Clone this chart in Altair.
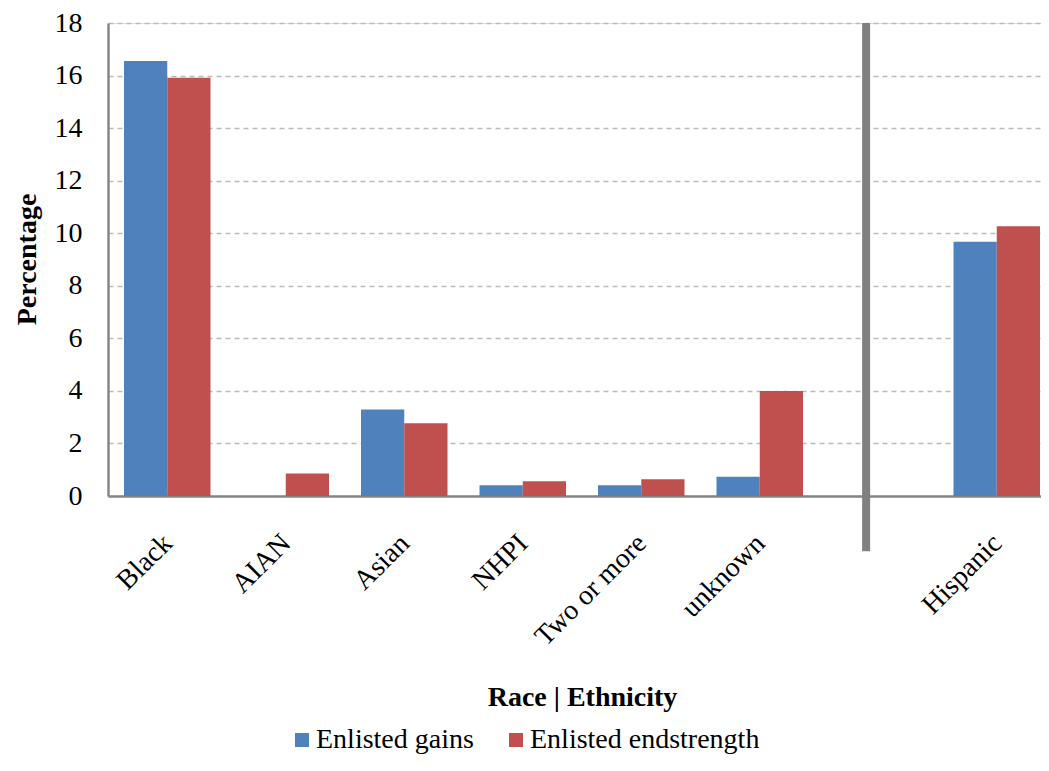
import altair as alt
import pandas as pd

categories = ["Black", "AIAN", "Asian", "NHPI", "Two or more", "unknown", " ", "Hispanic"]
gains = [16.55, 0.0, 3.29, 0.41, 0.41, 0.73, None, 9.68]
endstrength = [15.92, 0.86, 2.77, 0.56, 0.64, 4.0, None, 10.27]
series = ["Enlisted gains", "Enlisted endstrength"]
colors = ["#4F81BD", "#C0504D"]
y_ticks = [0, 2, 4, 6, 8, 10, 12, 14, 16, 18]

rows = []
for c, g, e in zip(categories, gains, endstrength):
    if g is not None:
        rows.append({"cat": c, "series": series[0], "value": g})
    if e is not None:
        rows.append({"cat": c, "series": series[1], "value": e})
df = pd.DataFrame(rows)

sep_df = pd.DataFrame([{"cat": " ", "top": 18, "bottom": -2.1}])

FONT = "Liberation Serif"

xscale = alt.Scale(domain=categories, range=[0, 948], paddingInner=0.27, paddingOuter=0.135)
yscale = alt.Scale(domain=[0, 18], nice=False)

bars = alt.Chart(df).mark_bar().encode(
    x=alt.X("cat:N", scale=xscale, sort=categories,
            axis=alt.Axis(title="Race | Ethnicity", labelAngle=315, labelFontSize=28,
                          labelFont=FONT, labelColor="#000000", ticks=False,
                          labelPadding=33, labelOffset=-9,
                          domainColor="#868686", domainWidth=2.5,
                          titleFont=FONT, titleFontSize=28, titleFontWeight="bold",
                          titleColor="#000000", titleX=474, titleY=201,
                          titleBaseline="middle", titleAlign="center")),
    xOffset=alt.XOffset("series:N", sort=series, scale=alt.Scale(domain=series)),
    y=alt.Y("value:Q", scale=yscale,
            axis=alt.Axis(title="Percentage", values=y_ticks, labelFontSize=28,
                          labelFont=FONT, labelColor="#000000", ticks=False,
                          labelPadding=26, domainColor="#868686", domainWidth=2.5,
                          grid=True, gridColor="#BBBBBB", gridDash=[5, 4], gridWidth=1.5,
                          titleFont=FONT, titleFontSize=28, titleFontWeight="bold",
                          titleColor="#000000", titleX=-81, titleY=236,
                          titleAngle=270, titleBaseline="middle", titleAlign="center")),
    color=alt.Color("series:N", sort=series,
                    scale=alt.Scale(domain=series, range=colors),
                    legend=alt.Legend(title=None, orient="none", legendX=180, legendY=703,
                                      direction="horizontal", symbolType="square",
                                      symbolSize=196, symbolStrokeWidth=0, padding=0,
                                      labelFont=FONT, labelFontSize=28, labelColor="#000000",
                                      labelOffset=0, columnPadding=28, labelLimit=400)),
)

sep = alt.Chart(sep_df).mark_rule(color="#808080", strokeWidth=8).encode(
    x=alt.X("cat:N", scale=xscale, bandPosition=0.36),
    y=alt.Y("top:Q", scale=yscale),
    y2="bottom:Q",
)

chart = alt.layer(bars, sep).properties(
    width=933, height=473,
    autosize=alt.AutoSizeParams(type="none"),
    padding={"left": 100, "top": 15, "right": 0, "bottom": 262},
).configure_view(stroke=None).configure(background="#FFFFFF")

chart.save("out.html", embed_options={"renderer": "svg", "actions": False})
